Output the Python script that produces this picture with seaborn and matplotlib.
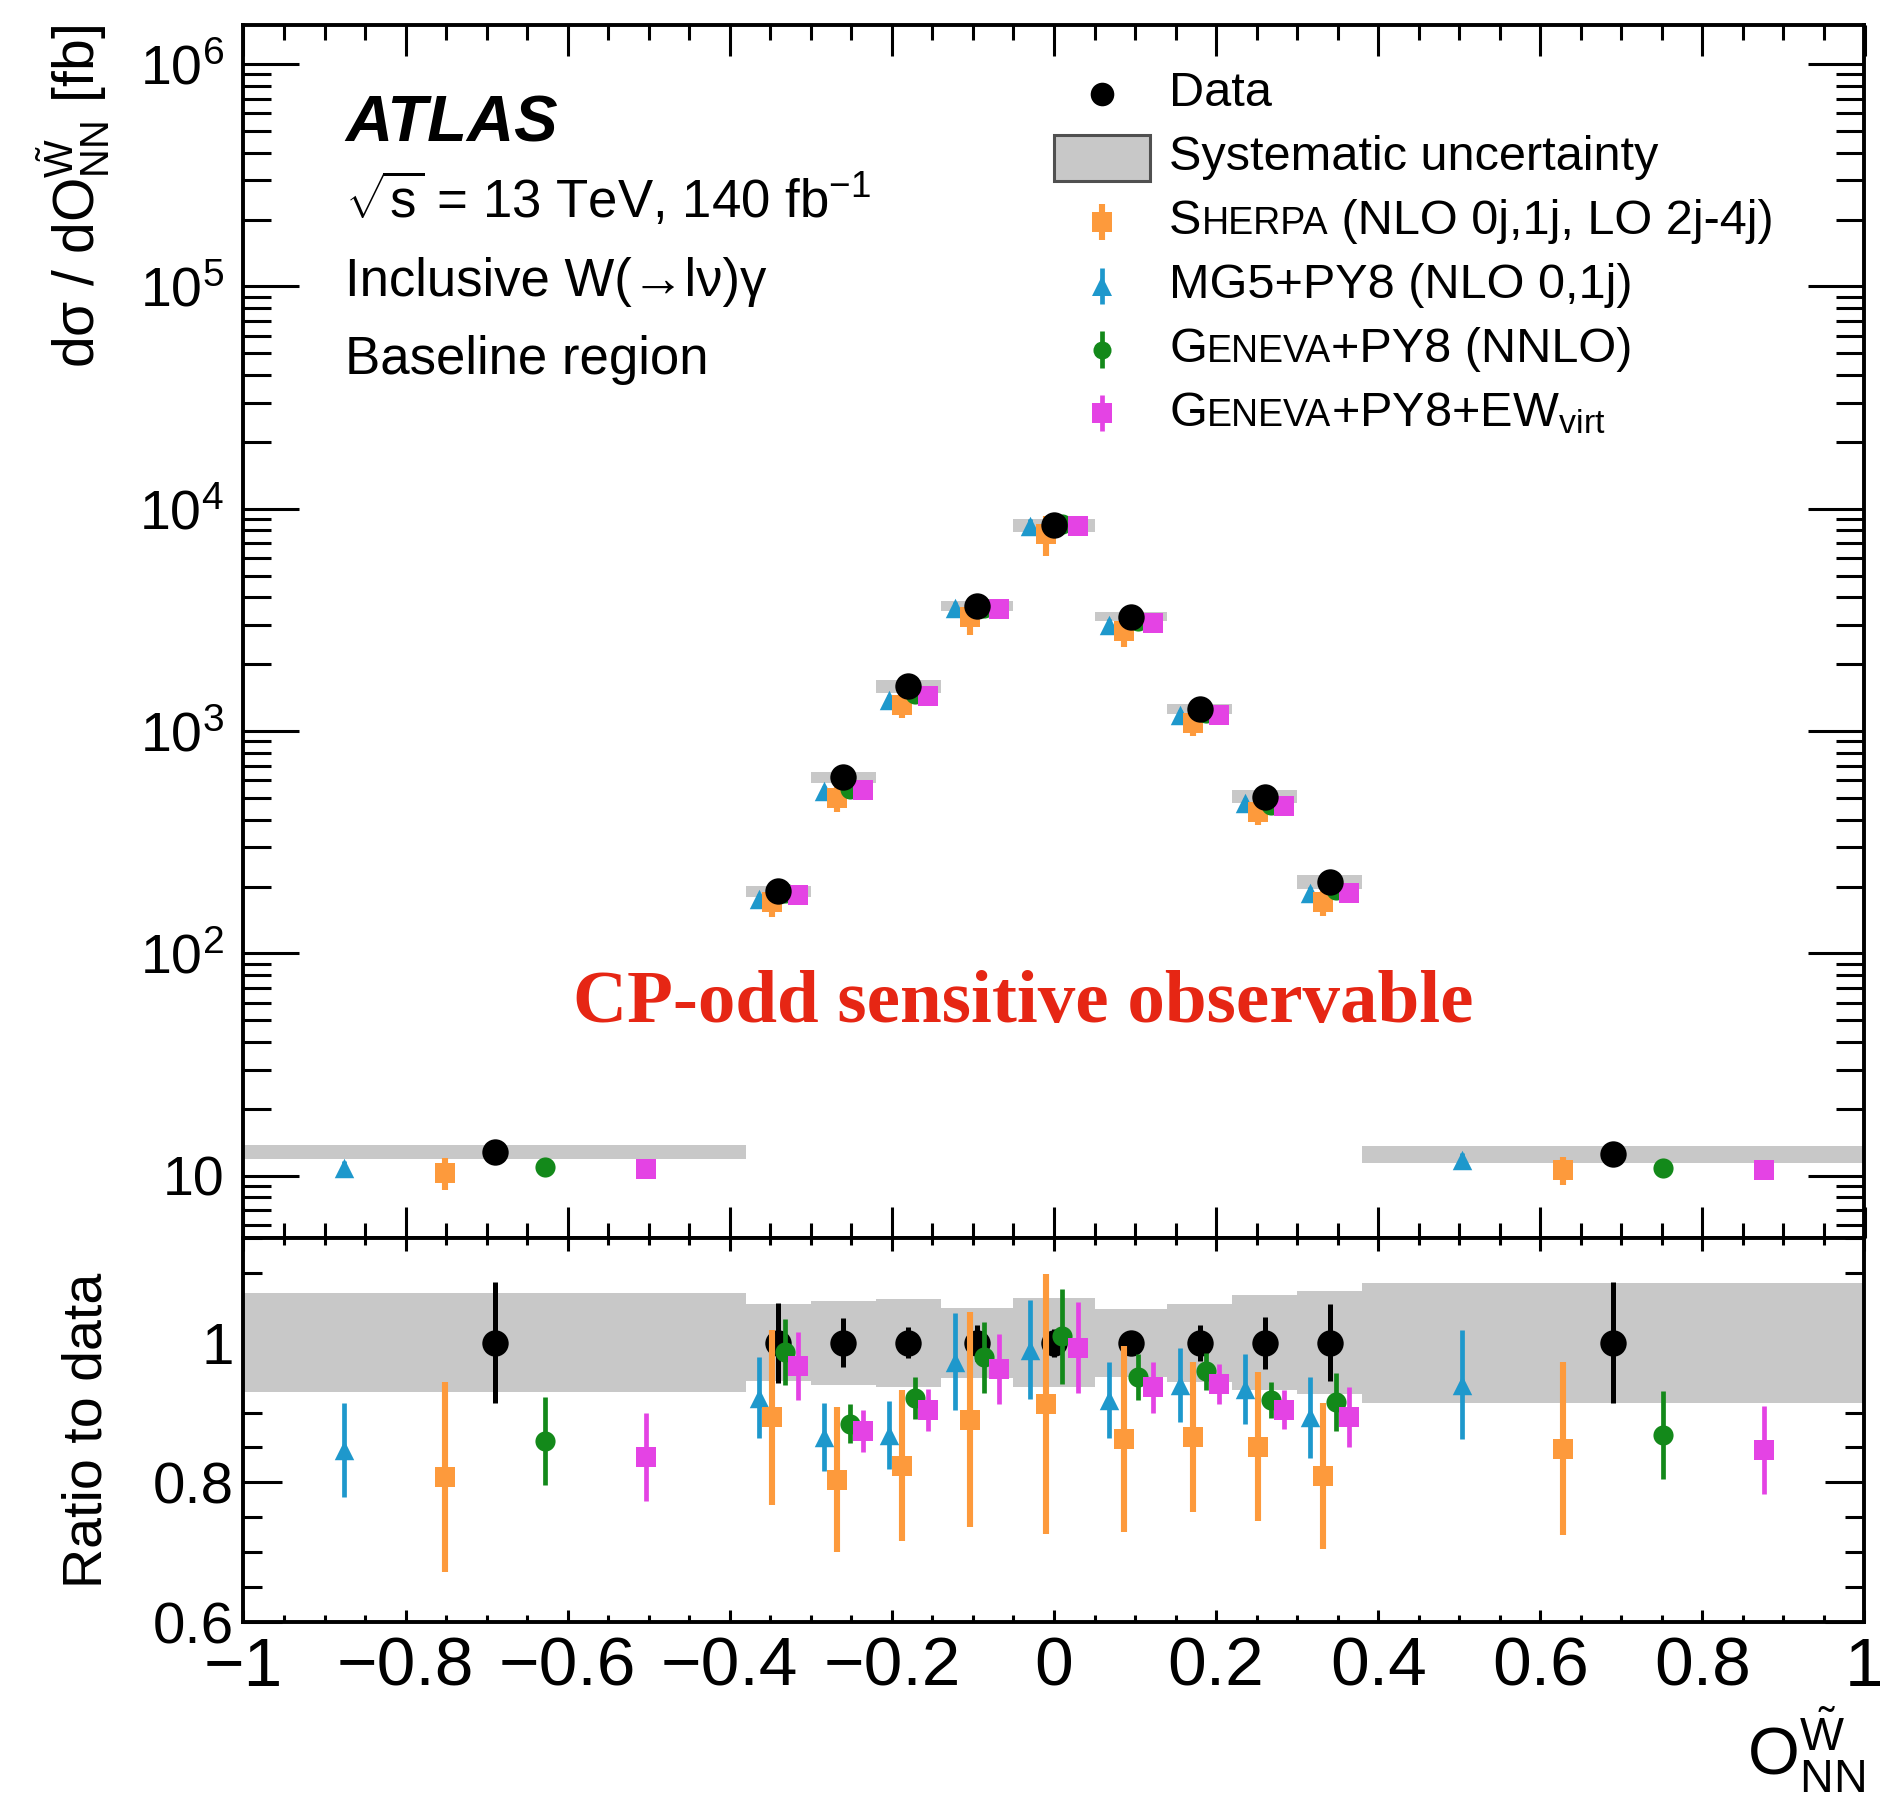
import numpy as np
import pandas as pd
import matplotlib
matplotlib.use("Agg")
import matplotlib.pyplot as plt
import seaborn as sns
from matplotlib.ticker import MultipleLocator, LogLocator, FuncFormatter, NullFormatter
from matplotlib.offsetbox import AnchoredOffsetbox, VPacker, HPacker, TextArea, DrawingArea
from matplotlib.lines import Line2D
from matplotlib.patches import Rectangle

# ---------------- data ----------------
bin_edges = [-1.0, -0.38, -0.30, -0.22, -0.14, -0.05, 0.05, 0.14, 0.22, 0.30, 0.38, 1.0]
data_xsec = [12.8, 190, 620, 1592, 3664, 8440, 3273, 1259, 508, 210, 12.5]
data_stat = [0.087, 0.057, 0.035, 0.022, 0.026, 0.020, 0.015, 0.026, 0.037, 0.055, 0.087]
syst_rel = [0.071, 0.055, 0.060, 0.063, 0.050, 0.064, 0.049, 0.056, 0.068, 0.074, 0.086]

sherpa_ratio = [0.808, 0.893, 0.804, 0.824, 0.890, 0.912, 0.862, 0.865, 0.851, 0.809, 0.848]
sherpa_err = [0.136, 0.125, 0.104, 0.108, 0.154, 0.186, 0.133, 0.108, 0.107, 0.105, 0.124]
mg5_ratio = [0.846, 0.921, 0.865, 0.868, 0.973, 0.990, 0.918, 0.940, 0.934, 0.893, 0.940]
mg5_err = [0.067, 0.058, 0.049, 0.049, 0.070, 0.071, 0.055, 0.053, 0.050, 0.058, 0.078]
geneva_ratio = [0.859, 0.987, 0.884, 0.921, 0.979, 1.009, 0.951, 0.959, 0.918, 0.915, 0.868]
geneva_err = [0.063, 0.047, 0.028, 0.030, 0.051, 0.068, 0.033, 0.026, 0.026, 0.042, 0.063]
genew_ratio = [0.836, 0.967, 0.873, 0.904, 0.962, 0.993, 0.936, 0.941, 0.904, 0.893, 0.846]
genew_err = [0.063, 0.049, 0.030, 0.030, 0.050, 0.065, 0.037, 0.029, 0.028, 0.043, 0.063]

x_ticks = [-1, -0.8, -0.6, -0.4, -0.2, 0, 0.2, 0.4, 0.6, 0.8, 1]

# ---------------- style ----------------
sns.set_theme(style="ticks")
plt.rcParams["font.family"] = ["Liberation Sans", "DejaVu Sans"]
plt.rcParams["mathtext.fontset"] = "custom"
plt.rcParams["mathtext.rm"] = "Liberation Sans"
plt.rcParams["mathtext.it"] = "Liberation Sans:italic"
plt.rcParams["mathtext.bf"] = "Liberation Sans:bold"
plt.rcParams["mathtext.sf"] = "Liberation Sans"
plt.rcParams["axes.unicode_minus"] = True
for k in ["text.color", "axes.labelcolor", "xtick.color", "ytick.color", "axes.edgecolor",
          "xtick.labelcolor", "ytick.labelcolor"]:
    plt.rcParams[k] = "black"

C_DATA = "#000000"
C_SHERPA = "#fd9a3c"
C_MG5 = "#1e98cc"
C_GEN = "#13891a"
C_GENEW = "#e443e4"
C_SYST = "#c8c8c8"

edges = np.array(bin_edges)
widths = np.diff(edges)
centers = 0.5 * (edges[:-1] + edges[1:])
dx = np.asarray(data_xsec, float)

series = [
    # name, ratio, err, color, marker, ms, lw, offset fraction
    ("mg5", mg5_ratio, mg5_err, C_MG5, "^", 14, 3.4, -0.3),
    ("sherpa", sherpa_ratio, sherpa_err, C_SHERPA, "s", 14, 4.4, -0.1),
    ("geneva", geneva_ratio, geneva_err, C_GEN, "o", 14.5, 3.4, 0.1),
    ("genew", genew_ratio, genew_err, C_GENEW, "s", 14.5, 3.4, 0.3),
]

fig = plt.figure(figsize=(18.81, 18.07), dpi=100)
L, W = 243.5 / 1881, (1864.5 - 243.5) / 1881
ax = fig.add_axes([L, 1 - 1238 / 1807, W, (1238 - 25) / 1807])
axr = fig.add_axes([L, 1 - 1622 / 1807, W, (1622 - 1238) / 1807])

# ---------------- upper panel ----------------
ax.bar(edges[:-1], 2 * dx * np.asarray(syst_rel), width=widths, bottom=dx * (1 - np.asarray(syst_rel)),
       align="edge", color=C_SYST, linewidth=0, zorder=1)
for name, r, e, col, mk, ms, lw, off in series:
    xs = centers + off * widths
    ys = dx * np.asarray(r)
    ax.errorbar(xs, ys, yerr=dx * np.asarray(e), fmt="none", ecolor=col, elinewidth=lw, capsize=0, zorder=3)
    sns.scatterplot(x=xs, y=ys, ax=ax, marker=mk, s=ms ** 2, color=col, linewidth=0, zorder=4, legend=False)
ax.errorbar(centers, dx, yerr=dx * np.asarray(data_stat), fmt="none", ecolor=C_DATA, elinewidth=3.4, capsize=0, zorder=5)
sns.scatterplot(x=centers, y=dx, ax=ax, marker="o", s=19 ** 2, color=C_DATA, linewidth=0, zorder=6, legend=False)

ax.set_yscale("log")
ax.set_xlim(-1, 1)
ax.set_ylim(5.25, 1.5e6)
ax.xaxis.set_major_locator(MultipleLocator(0.2))
ax.xaxis.set_minor_locator(MultipleLocator(0.05))
ax.xaxis.set_major_formatter(NullFormatter())
ax.yaxis.set_major_locator(LogLocator(base=10, numticks=20))
ax.yaxis.set_minor_locator(LogLocator(base=10, subs=np.arange(2, 10), numticks=100))
ax.yaxis.set_minor_formatter(NullFormatter())


def logfmt(v, pos):
    if v <= 0:
        return ""
    e = int(round(np.log10(v)))
    if e == 1:
        return "10"
    return r"$\mathregular{10^{%d}}$" % e


ax.yaxis.set_major_formatter(FuncFormatter(logfmt))
ax.tick_params(which="both", direction="in", top=True, right=True, width=2.2, color="black")
ax.tick_params(axis="y", which="major", length=40, labelsize=40, pad=14)
ax.tick_params(axis="y", which="minor", length=20)
ax.tick_params(axis="x", which="major", length=22)
ax.tick_params(axis="x", which="minor", length=11)
ax.set_xlabel("")
ax.set_ylabel("dσ / dO$_{\\mathrm{NN}}^{\\tilde{\\mathrm{W}}}$ [fb]", fontsize=41, loc="top")
ax.yaxis.set_label_coords(-0.0805, 1.0)

for sp in ax.spines.values():
    sp.set_linewidth(2.8)
    sp.set_color("black")

# text block
ax.text(0.0626, 0.9036, "ATLAS", transform=ax.transAxes, fontsize=47, fontweight="bold",
        fontstyle="italic", va="baseline", ha="left")
ax.text(0.0626, 0.8409, r"$\sqrt{\mathrm{s}}$ = 13 TeV, 140 fb$^{\mathrm{-1}}$", transform=ax.transAxes,
        fontsize=38, va="baseline", ha="left")
ax.text(0.0626, 0.7766, "Inclusive W(→lν)γ", transform=ax.transAxes, fontsize=38, va="baseline", ha="left")
ax.text(0.0626, 0.7123, "Baseline region", transform=ax.transAxes, fontsize=38, va="baseline", ha="left")

ax.text(0.481, 0.178, "CP-odd sensitive observable", transform=ax.transAxes, fontsize=54,
        fontweight="bold", family=["Liberation Serif", "DejaVu Serif"], color="#e62614",
        va="baseline", ha="center")

# legend built from offset boxes (small caps labels)
FS, FSS = 35, 27
ROW_H, HW = 46, 69


def glyph(kind, col=None, mk=None, ms=None, lw=None, bar=True):
    da = DrawingArea(HW, ROW_H, 0, 0)
    cx, cy = HW / 2, ROW_H / 2
    if kind == "patch":
        da.add_artist(Rectangle((0, cy - 16.5), HW, 33, facecolor=C_SYST, edgecolor="#505050", linewidth=2.2))
    else:
        if bar:
            da.add_artist(Line2D([cx, cx], [cy - 13, cy + 13], color=col, lw=lw, solid_capstyle="butt"))
        da.add_artist(Line2D([cx], [cy], marker=mk, markersize=ms, color=col, linestyle="none", markeredgewidth=0))
    return da


def label(parts):
    boxes = []
    for txt, size in parts:
        boxes.append(TextArea(txt, textprops=dict(size=size, color="black")))
    return HPacker(children=boxes, align="baseline", pad=0, sep=0)


rows = [
    (glyph("pt", "black", "o", 17, 3, bar=False), label([("Data", FS)])),
    (glyph("patch"), label([("Systematic uncertainty", FS)])),
    (glyph("pt", C_SHERPA, "s", 14, 4.4), label([("S", FS), ("HERPA", FSS), (" (NLO 0j,1j, LO 2j-4j)", FS)])),
    (glyph("pt", C_MG5, "^", 14, 3.4), label([("MG5+PY8 (NLO 0,1j)", FS)])),
    (glyph("pt", C_GEN, "o", 13, 3.4), label([("G", FS), ("ENEVA", FSS), ("+PY8 (NNLO)", FS)])),
    (glyph("pt", C_GENEW, "s", 14.5, 3.4), label([("G", FS), ("ENEVA", FSS), ("+PY8+EW$_{\\mathrm{virt}}$", FS)])),
]
vbox = VPacker(children=[HPacker(children=[g, t], align="center", pad=0, sep=14) for g, t in rows],
               align="left", pad=0, sep=0)
anch = AnchoredOffsetbox(loc="upper left", child=vbox, pad=0, borderpad=0, frameon=False,
                         bbox_to_anchor=(1054 / 1881, 1 - 62 / 1807), bbox_transform=fig.transFigure)
ax.add_artist(anch)

# ---------------- ratio panel ----------------
axr.bar(edges[:-1], 2 * np.asarray(syst_rel), width=widths, bottom=1 - np.asarray(syst_rel),
        align="edge", color=C_SYST, linewidth=0, zorder=1)
ones = np.ones_like(centers)
axr.errorbar(centers, ones, yerr=data_stat, fmt="none", ecolor=C_DATA, elinewidth=3.6, capsize=0, zorder=2)
sns.scatterplot(x=centers, y=ones, ax=axr, marker="o", s=19 ** 2, color=C_DATA, linewidth=0, zorder=3, legend=False)
for name, r, e, col, mk, ms, lw, off in series:
    xs = centers + off * widths
    axr.errorbar(xs, r, yerr=e, fmt="none", ecolor=col, elinewidth=lw, capsize=0, zorder=4)
    sns.scatterplot(x=xs, y=r, ax=axr, marker=mk, s=ms ** 2, color=col, linewidth=0, zorder=5, legend=False)

axr.set_xlim(-1, 1)
axr.set_ylim(0.6, 1.15)
axr.set_xticks(x_ticks)
axr.xaxis.set_minor_locator(MultipleLocator(0.05))
axr.xaxis.set_major_formatter(FuncFormatter(lambda v, p: ("%g" % v).replace("-", "\u2212")))
axr.yaxis.set_major_locator(MultipleLocator(0.2))
axr.yaxis.set_minor_locator(MultipleLocator(0.05))
axr.yaxis.set_major_formatter(FuncFormatter(lambda v, p: "%g" % round(v, 2)))
axr.tick_params(which="both", direction="in", top=True, right=True, width=2.2, color="black")
axr.tick_params(axis="y", which="major", length=28, labelsize=42, pad=7)
axr.tick_params(axis="y", which="minor", length=14)
axr.tick_params(axis="x", which="major", length=9, labelsize=50, pad=10)
axr.tick_params(axis="x", which="minor", length=5)
axr.set_ylabel("Ratio to data", fontsize=40)
axr.yaxis.set_label_coords(-0.0805, 0.5)
axr.set_xlabel("O$_{\\mathrm{NN}}^{\\tilde{\\mathrm{W}}}$", fontsize=48, loc="right")
axr.xaxis.set_label_coords(1.0, -0.215)
for sp in axr.spines.values():
    sp.set_linewidth(2.8)
    sp.set_color("black")

fig.savefig("out.png", dpi=100)
